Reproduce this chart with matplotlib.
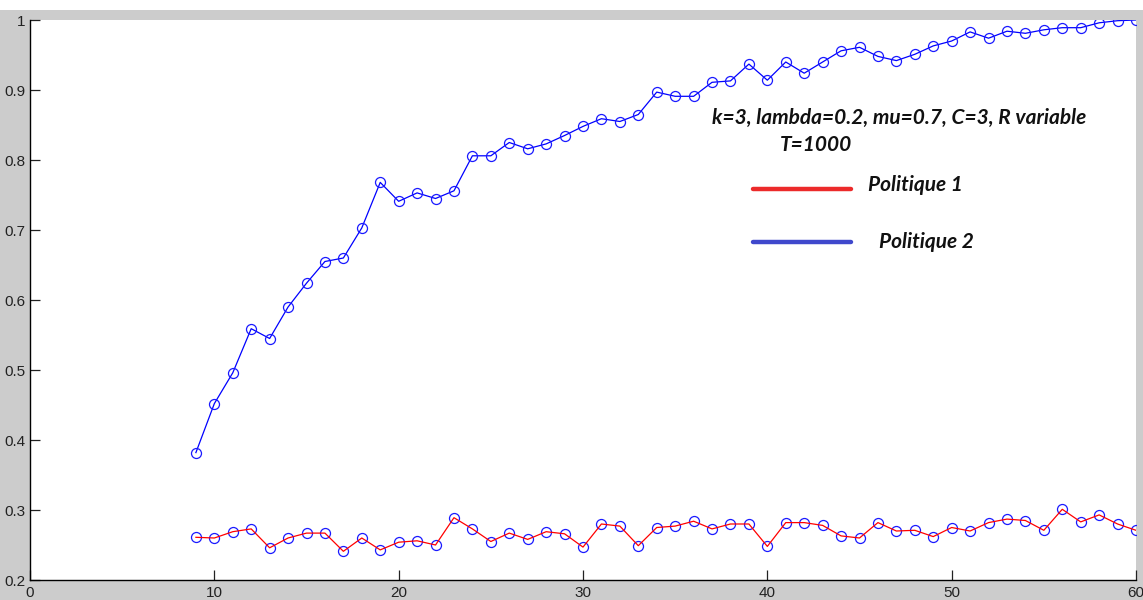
import matplotlib
matplotlib.use("Agg")
import matplotlib.pyplot as plt
from matplotlib.patches import Rectangle
from matplotlib.lines import Line2D

# R values (x axis)
r_values = list(range(9, 61))

# Politique 1 (red line)
politique_1 = [0.261, 0.260, 0.269, 0.273, 0.246, 0.260, 0.267, 0.267, 0.241, 0.260,
               0.243, 0.254, 0.256, 0.250, 0.289, 0.273, 0.255, 0.267, 0.258, 0.269,
               0.266, 0.247, 0.280, 0.277, 0.249, 0.275, 0.277, 0.284, 0.273, 0.280,
               0.280, 0.248, 0.282, 0.282, 0.278, 0.263, 0.260, 0.282, 0.270, 0.271,
               0.262, 0.275, 0.270, 0.282, 0.287, 0.285, 0.271, 0.301, 0.283, 0.293,
               0.280, 0.271]

# Politique 2 (blue line)
politique_2 = [0.382, 0.452, 0.496, 0.559, 0.545, 0.590, 0.624, 0.655, 0.660, 0.703,
               0.768, 0.741, 0.753, 0.745, 0.756, 0.806, 0.806, 0.825, 0.816, 0.823,
               0.835, 0.848, 0.859, 0.855, 0.865, 0.897, 0.891, 0.891, 0.911, 0.913,
               0.937, 0.914, 0.940, 0.924, 0.940, 0.956, 0.961, 0.948, 0.942, 0.951,
               0.963, 0.970, 0.983, 0.974, 0.984, 0.981, 0.986, 0.989, 0.989, 0.996,
               0.999, 1.000]

x_ticks = [0, 10, 20, 30, 40, 50, 60]
y_ticks = [0.2, 0.3, 0.4, 0.5, 0.6, 0.7, 0.8, 0.9, 1.0]
y_tick_labels = ["0.2", "0.3", "0.4", "0.5", "0.6", "0.7", "0.8", "0.9", "1"]

W, H = 1143, 600
fig = plt.figure(figsize=(W / 100, H / 100), dpi=100)
fig.patch.set_facecolor("#cccccc")
# white strip along the top of the window
fig.patches.append(Rectangle((0, 1 - 10 / H), 1, 10 / H, transform=fig.transFigure,
                             facecolor="white", edgecolor="none", zorder=-1))

ax = fig.add_axes([30 / W, 20 / H, (1136 - 30) / W, 560 / H])
ax.set_facecolor("white")

ax.plot(r_values, politique_1, color="#ff0000", linewidth=0.9, zorder=3)
ax.plot(r_values, politique_1, linestyle="none", marker="o", markersize=7.2,
        markerfacecolor="none", markeredgecolor="#1a1aff", markeredgewidth=0.9, zorder=2)
ax.plot(r_values, politique_2, color="#0000ff", linewidth=0.9, marker="o",
        markersize=7.2, markerfacecolor="none", markeredgecolor="#1a1aff",
        markeredgewidth=0.9, zorder=3)

ax.set_xlim(0, 60)
ax.set_ylim(0.2, 1.0)
ax.set_xticks(x_ticks)
ax.set_xticklabels([str(t) for t in x_ticks])
ax.set_yticks(y_ticks)
ax.set_yticklabels(y_tick_labels)

for side in ("top", "right"):
    ax.spines[side].set_visible(False)
for side in ("left", "bottom"):
    ax.spines[side].set_color("black")
    ax.spines[side].set_linewidth(1.0)

ax.tick_params(direction="in", length=7.5, width=0.9, color="#222222",
               labelsize=11, labelcolor="#222222")
ax.tick_params(axis="x", pad=4)
ax.tick_params(axis="y", pad=3)
for lab in ax.get_xticklabels() + ax.get_yticklabels():
    lab.set_fontfamily("Liberation Sans")

# Annotation block
txt = dict(fontfamily="Lato", fontweight="bold", fontstyle="italic",
           color="#111111", transform=fig.transFigure, clip_on=False)
fig.text(899 / W, 1 - 118 / H, "k=3, lambda=0.2, mu=0.7, C=3, R variable",
         ha="center", va="center", fontsize=15, **txt)
fig.text(816 / W, 1 - 145 / H, "T=1000", ha="center", va="center",
         fontsize=15, **txt)
fig.text(868 / W, 1 - 185 / H, "Politique 1", ha="left", va="center",
         fontsize=15, **txt)
fig.text(879 / W, 1 - 242 / H, "Politique 2", ha="left", va="center",
         fontsize=15, **txt)

fig.lines.append(Line2D([753 / W, 851 / W], [1 - 189 / H, 1 - 189 / H],
                        transform=fig.transFigure, color="#ec2a2a",
                        linewidth=3.2, solid_capstyle="round"))
fig.lines.append(Line2D([753 / W, 851 / W], [1 - 241.5 / H, 1 - 241.5 / H],
                        transform=fig.transFigure, color="#3f48cc",
                        linewidth=3.2, solid_capstyle="round"))

fig.savefig("out.png", dpi=100, facecolor=fig.get_facecolor())
